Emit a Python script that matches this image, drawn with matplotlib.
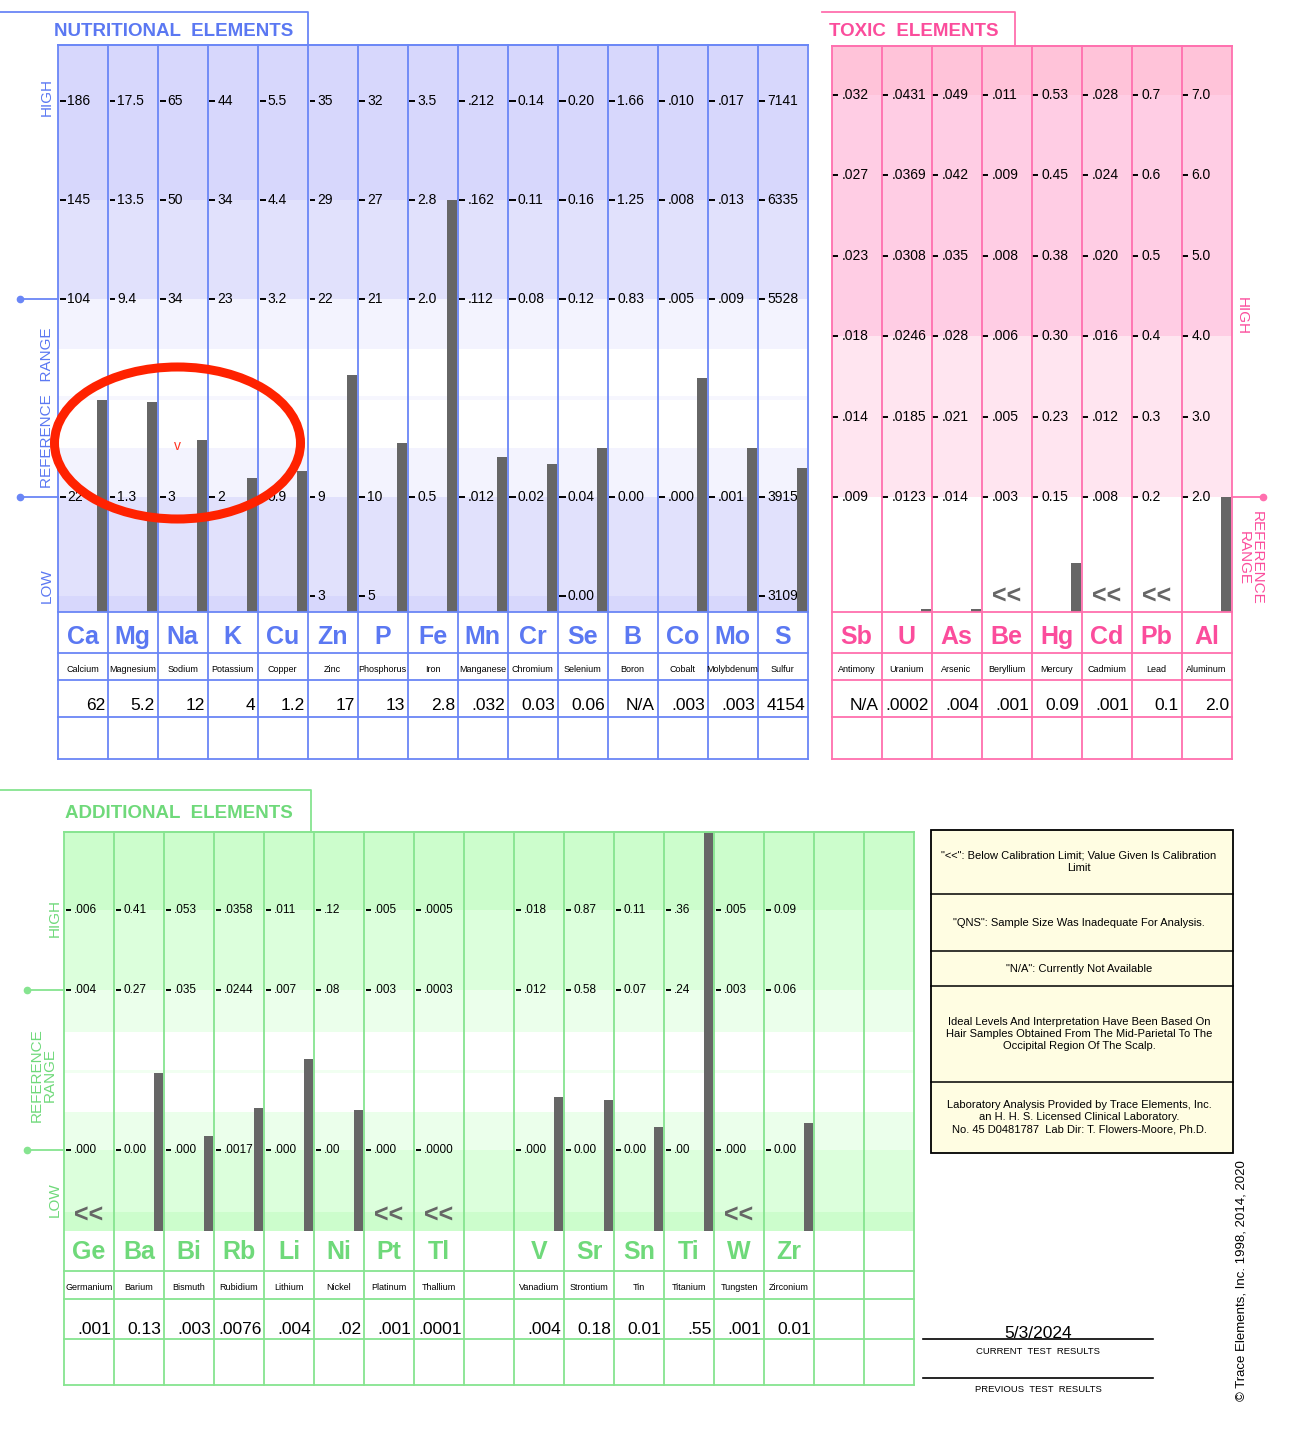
import numpy as np
import matplotlib
matplotlib.use('Agg')
import matplotlib.pyplot as plt
from matplotlib.patches import Rectangle, Ellipse

W, H = 1300, 1440
SANS = 'Liberation Sans'

# ---------------- data ----------------
nut_symbols = ['Ca', 'Mg', 'Na', 'K', 'Cu', 'Zn', 'P', 'Fe', 'Mn', 'Cr', 'Se', 'B', 'Co', 'Mo', 'S']
nut_names = ['Calcium', 'Magnesium', 'Sodium', 'Potassium', 'Copper', 'Zinc', 'Phosphorus', 'Iron',
             'Manganese', 'Chromium', 'Selenium', 'Boron', 'Cobalt', 'Molybdenum', 'Sulfur']
nut_results = ['62', '5.2', '12', '4', '1.2', '17', '13', '2.8', '.032', '0.03', '0.06', 'N/A', '.003', '.003', '4154']
nut_high2 = ['186', '17.5', '65', '44', '5.5', '35', '32', '3.5', '.212', '0.14', '0.20', '1.66', '.010', '.017', '7141']
nut_high1 = ['145', '13.5', '50', '34', '4.4', '29', '27', '2.8', '.162', '0.11', '0.16', '1.25', '.008', '.013', '6335']
nut_ref_high = ['104', '9.4', '34', '23', '3.2', '22', '21', '2.0', '.112', '0.08', '0.12', '0.83', '.005', '.009', '5528']
nut_ref_low = ['22', '1.3', '3', '2', '0.9', '9', '10', '0.5', '.012', '0.02', '0.04', '0.00', '.000', '.001', '3915']
nut_low = ['', '', '', '', '', '3', '5', '', '', '', '0.00', '', '', '', '3109']
nut_below = [False] * 15

tox_symbols = ['Sb', 'U', 'As', 'Be', 'Hg', 'Cd', 'Pb', 'Al']
tox_names = ['Antimony', 'Uranium', 'Arsenic', 'Beryllium', 'Mercury', 'Cadmium', 'Lead', 'Aluminum']
tox_results = ['N/A', '.0002', '.004', '.001', '0.09', '.001', '0.1', '2.0']
tox_t5 = ['.032', '.0431', '.049', '.011', '0.53', '.028', '0.7', '7.0']
tox_t4 = ['.027', '.0369', '.042', '.009', '0.45', '.024', '0.6', '6.0']
tox_t3 = ['.023', '.0308', '.035', '.008', '0.38', '.020', '0.5', '5.0']
tox_t2 = ['.018', '.0246', '.028', '.006', '0.30', '.016', '0.4', '4.0']
tox_t1 = ['.014', '.0185', '.021', '.005', '0.23', '.012', '0.3', '3.0']
tox_t0 = ['.009', '.0123', '.014', '.003', '0.15', '.008', '0.2', '2.0']
tox_below = [False, False, False, True, False, True, True, False]

add_symbols = ['Ge', 'Ba', 'Bi', 'Rb', 'Li', 'Ni', 'Pt', 'Tl', '', 'V', 'Sr', 'Sn', 'Ti', 'W', 'Zr', '', '']
add_names = ['Germanium', 'Barium', 'Bismuth', 'Rubidium', 'Lithium', 'Nickel', 'Platinum', 'Thallium', '',
             'Vanadium', 'Strontium', 'Tin', 'Titanium', 'Tungsten', 'Zirconium', '', '']
add_results = ['.001', '0.13', '.003', '.0076', '.004', '.02', '.001', '.0001', '',
               '.004', '0.18', '0.01', '.55', '.001', '0.01', '', '']
add_high = ['.006', '0.41', '.053', '.0358', '.011', '.12', '.005', '.0005', '',
            '.018', '0.87', '0.11', '.36', '.005', '0.09', '', '']
add_ref_high = ['.004', '0.27', '.035', '.0244', '.007', '.08', '.003', '.0003', '',
                '.012', '0.58', '0.07', '.24', '.003', '0.06', '', '']
add_ref_low = ['.000', '0.00', '.000', '.0017', '.000', '.00', '.000', '.0000', '',
               '.000', '0.00', '0.00', '.00', '.000', '0.00', '', '']
add_below = [True, False, False, False, False, False, True, True, False,
             False, False, False, False, True, False, False, False]

legend_rows = [
    '"<<": Below Calibration Limit; Value Given Is Calibration\nLimit',
    '"QNS": Sample Size Was Inadequate For Analysis.',
    '"N/A": Currently Not Available',
    'Ideal Levels And Interpretation Have Been Based On\nHair Samples Obtained From The Mid-Parietal To The\nOccipital Region Of The Scalp.',
    'Laboratory Analysis Provided by Trace Elements, Inc.\nan H. H. S. Licensed Clinical Laboratory.\nNo. 45 D0481787  Lab Dir: T. Flowers-Moore, Ph.D.',
]
test_date = '5/3/2024'

BLUE, BLUE_LINE = '#5b78f2', '#6a86f6'
PINK, PINK_LINE = '#fb4d9c', '#ff6fae'
GREEN, GREEN_LINE = '#6fd97a', '#86e490'
BAR = '#666666'


def level_of(v, vals, levs):
    vals = np.asarray(vals, float)
    levs = np.asarray(levs, float)
    if v < vals[0]:
        s = (levs[1] - levs[0]) / (vals[1] - vals[0])
        return levs[0] + (v - vals[0]) * s
    if v > vals[-1]:
        s = (levs[-1] - levs[-2]) / (vals[-1] - vals[-2])
        return levs[-1] + (v - vals[-1]) * s
    return float(np.interp(v, vals, levs))


def to_float(s):
    try:
        return float(s)
    except ValueError:
        return None


fig = plt.figure(figsize=(W / 100, H / 100), dpi=100)


def panel(x0, ncols, y_top, y_bot, lev_bot, lev_top, bands, ladder, results, below,
          tick_size, dash=(0.04, 0.16), floor_frac=None, min_h=0.0):
    ax = fig.add_axes([x0 / W, 1 - y_bot / H, 50 * ncols / W, (y_bot - y_top) / H])
    ax.set_xlim(0, ncols)
    ax.set_ylim(lev_bot, lev_top)
    ax.axis('off')
    for lo, hi, col in bands:
        ax.axhspan(max(lo, lev_bot), min(hi, lev_top), color=col, lw=0, zorder=0)
    for i in range(ncols):
        vals, levs = [], []
        for lev, labels in ladder:
            if labels[i] == '':
                continue
            vals.append(float(labels[i]))
            levs.append(lev)
            ax.plot([i + dash[0], i + dash[1]], [lev, lev], color='black', lw=1.4, zorder=2,
                    solid_capstyle='butt')
            ax.text(i + 0.2, lev, labels[i], fontsize=tick_size, family=SANS,
                    va='center', ha='left', zorder=2)
        v = to_float(results[i])
        if below[i]:
            ax.text(i + 0.5, lev_bot + 0.19, '<<', fontsize=18, fontweight='bold', color=BAR,
                    family=SANS, ha='center', va='center', zorder=3)
        elif v is not None and vals:
            if floor_frac is not None:
                vals = [floor_frac * vals[0]] + vals
                levs = [lev_bot] + levs
            top = max(level_of(v, vals, levs), lev_bot + min_h)
            ax.bar(i + 0.89, top - lev_bot, bottom=lev_bot, width=0.19, color=BAR, zorder=3)
    return ax


# nutritional: unit 99 px, level 1 at y=497
nut_ax = panel(57.5, 15, 45, 612, 1 - 115 / 99, 1 + 452 / 99,
               [(4, 9, '#d7d7fc'), (3, 4, '#e1e1fc'), (2.5, 3, '#f3f3fe'), (1.98, 2.02, '#f6f6fe'),
                (1, 1.5, '#f3f3fe'), (0, 1, '#e1e1fc'), (-1, 0, '#d7d7fc')],
               [(0, nut_low), (1, nut_ref_low), (3, nut_ref_high), (4, nut_high1), (5, nut_high2)],
               nut_results, nut_below, 10)

# toxic: unit 80.4 px, level 0 at y=497
tox_ax = panel(831.5, 8, 46, 612, -115 / 80.4, 451 / 80.4,
               [(5, 9, '#ffc3d9'), (2, 5, '#ffcde4'), (0, 2, '#ffe5f0')],
               [(0, tox_t0), (1, tox_t1), (2, tox_t2), (3, tox_t3), (4, tox_t4), (5, tox_t5)],
               tox_results, tox_below, 10, dash=(0.01, 0.13), floor_frac=0.3, min_h=0.04)

# additional: unit 80 px, level 0 at y=1150
add_ax = panel(64, 17, 832, 1231, -81 / 80, 318 / 80,
               [(3, 9, '#ccfdcc'), (2, 3, '#dcffdc'), (1.475, 2, '#ebffeb'), (0.96, 1.0, '#f1fff1'),
                (0, 0.475, '#ebffeb'), (-0.775, 0, '#dcffdc'), (-3, -0.775, '#ccfdcc')],
               [(0, add_ref_low), (2, add_ref_high), (3, add_high)],
               add_results, add_below, 8.5, dash=(0.03, 0.14))

# ---------------- overlay in pixel coordinates ----------------
bg = fig.add_axes([0, 0, 1, 1])
bg.set_xlim(0, W)
bg.set_ylim(H, 0)
bg.axis('off')
bg.patch.set_alpha(0)


def tab(x_start, x_end, y_line, y_box, title, tx, ty, color, line):
    bg.plot([x_start, x_end, x_end], [y_line, y_line, y_box], color=line, lw=1.3)
    bg.text(tx, ty, title, color=color, fontsize=13.5, fontweight='bold', family=SANS,
            ha='left', va='center')


def table(x0, ncols, plot_top, rows, line, symbols, names, results, sym_color,
          sym_y, name_y, res_y, top_line=True):
    x1 = x0 + 50 * ncols
    for i in range(ncols + 1):
        bg.plot([x0 + 50 * i] * 2, [plot_top, rows[-1]], color=line, lw=1.3)
    bg.plot([x0, x1], [plot_top, plot_top], color=line, lw=1.4)
    for k, y in enumerate(rows):
        if k == 0 and not top_line:
            continue
        bg.plot([x0, x1], [y, y], color=line, lw=1.3)
    for i in range(ncols):
        cx = x0 + 50 * i + 25
        bg.text(cx, sym_y, symbols[i], color=sym_color, fontsize=18, fontweight='bold',
                family=SANS, ha='center', va='center')
        bg.text(cx, name_y, names[i], fontsize=6.5, family=SANS, ha='center', va='center')
        bg.text(x0 + 50 * (i + 1) - 2.5, res_y, results[i], fontsize=12.5, family=SANS,
                ha='right', va='center')


tab(0, 308, 12, 45, 'NUTRITIONAL  ELEMENTS', 54, 32, BLUE, BLUE_LINE)
tab(822, 1015, 12, 46, 'TOXIC  ELEMENTS', 829, 32, PINK, PINK_LINE)
tab(0, 311, 790, 832, 'ADDITIONAL  ELEMENTS', 65, 813, GREEN, GREEN_LINE)

table(57.5, 15, 45, [612, 653, 680, 717, 759], BLUE_LINE, nut_symbols, nut_names, nut_results,
      BLUE, 637, 670, 705)
table(831.5, 8, 46, [612, 653, 680, 717, 759], PINK_LINE, tox_symbols, tox_names, tox_results,
      PINK, 637, 670, 705)
table(64, 17, 832, [1231, 1271, 1299, 1339, 1385], GREEN_LINE, add_symbols, add_names, add_results,
      GREEN, 1252, 1288, 1330, top_line=False)


def marker(x_dot, x_end, y, color):
    bg.plot([x_dot, x_end], [y, y], color=color, lw=1.3)
    bg.plot([x_dot], [y], 'o', color=color, ms=4.5)


SIDE = 11
# side labels
for y in (299, 497):
    marker(20, 57.5, y, BLUE_LINE)
bg.text(47, 97, 'HIGH', rotation=90, color=BLUE, fontsize=SIDE, family=SANS, ha='center', va='center')
bg.text(47, 408, 'REFERENCE   RANGE', rotation=90, color=BLUE, fontsize=SIDE, family=SANS,
        ha='center', va='center')
bg.text(47, 586, 'LOW', rotation=90, color=BLUE, fontsize=SIDE, family=SANS, ha='center', va='center')

marker(1263, 1231.5, 497, PINK_LINE)
bg.text(1242, 316, 'HIGH', rotation=270, color=PINK, fontsize=SIDE, family=SANS, ha='center', va='center')
bg.text(1250, 558, 'REFERENCE\nRANGE', rotation=270, color=PINK, fontsize=SIDE, family=SANS,
        ha='center', va='center', linespacing=0.95)

for y in (990, 1150):
    marker(27, 64, y, GREEN_LINE)
bg.text(55, 918, 'HIGH', rotation=90, color=GREEN, fontsize=SIDE, family=SANS, ha='center', va='center')
bg.text(43, 1075, 'REFERENCE\nRANGE', rotation=90, color=GREEN, fontsize=SIDE, family=SANS,
        ha='center', va='center', linespacing=0.95)
bg.text(55, 1200, 'LOW', rotation=90, color=GREEN, fontsize=SIDE, family=SANS, ha='center', va='center')

# legend box
seps = [830, 894, 951, 986, 1082, 1153]
bg.add_patch(Rectangle((931, 830), 302, 323, facecolor='#fffde2', edgecolor='black', lw=1.3))
for y in seps[1:-1]:
    bg.plot([931, 1233], [y, y], color='black', lw=1.1)
for k, txt in enumerate(legend_rows):
    bg.text(1079, (seps[k] + seps[k + 1]) / 2, txt, fontsize=8, family=SANS, ha='center',
            va='center', linespacing=1.3)

# test results lines
bg.plot([923, 1153], [1339, 1339], color='black', lw=1.2)
bg.text(1038, 1333, test_date, fontsize=12.5, family=SANS, ha='center', va='center')
bg.text(1038, 1351, 'CURRENT  TEST  RESULTS', fontsize=6.8, family=SANS, ha='center', va='center')
bg.plot([923, 1153], [1378, 1378], color='black', lw=1.2)
bg.text(1038, 1389, 'PREVIOUS  TEST  RESULTS', fontsize=6.8, family=SANS, ha='center', va='center')
bg.text(1242, 1281, '\u00a9 Trace Elements, Inc. 1998, 2014, 2020', rotation=90, fontsize=9.5,
        family=SANS, ha='center', va='center')

# hand-drawn annotation
bg.add_patch(Ellipse((177.5, 443), 246, 152, fill=False, edgecolor='#ff2200', lw=6.5, zorder=10))
bg.text(177, 446, 'v', color='#ff3322', fontsize=10, family=SANS, ha='center', va='center', zorder=10)

fig.savefig('out.png', dpi=100)
